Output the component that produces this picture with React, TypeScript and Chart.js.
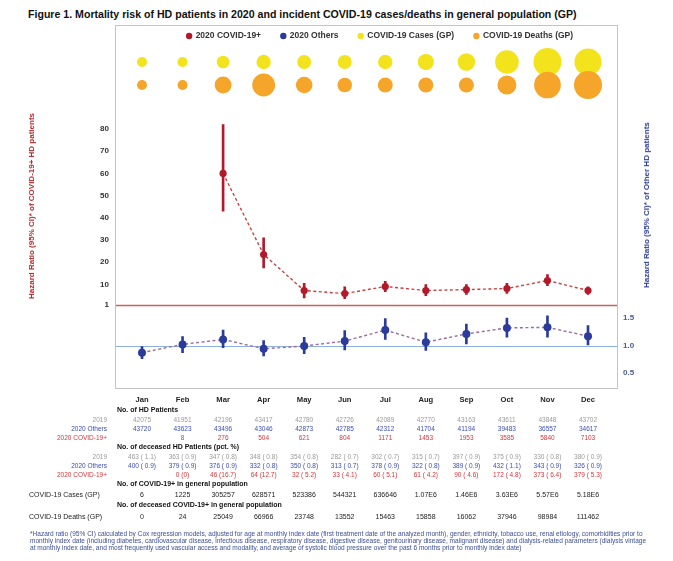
import React, { useEffect, useRef } from "react";
import { Chart, registerables } from "chart.js";

Chart.register(...registerables);

// ---------------- data ----------------
const months = ["Jan", "Feb", "Mar", "Apr", "May", "Jun", "Jul", "Aug", "Sep", "Oct", "Nov", "Dec"];

// Hazard ratio (95% CI) of COVID-19+ HD patients (Jan/Feb not estimable)
const covidHR = [null, null, 60, 23.5, 7.3, 5.9, 9.1, 7.3, 7.7, 8.2, 11.8, 7.3];
const covidLo = [null, null, 43, 17.5, 4, 3.6, 6.8, 5, 5.5, 6, 9.5, 5.5];
const covidHi = [null, null, 82, 31, 10.5, 9, 11.4, 10, 10, 10.5, 14.5, 9];

// Hazard ratio (95% CI) of other HD patients
const othersHR = [0.87, 1.02, 1.11, 0.94, 0.99, 1.08, 1.28, 1.06, 1.21, 1.32, 1.33, 1.17];
const othersLo = [0.76, 0.87, 0.96, 0.81, 0.85, 0.92, 1.11, 0.91, 1.03, 1.15, 1.15, 1.01];
const othersHi = [0.98, 1.16, 1.28, 1.09, 1.15, 1.27, 1.49, 1.23, 1.39, 1.5, 1.54, 1.36];

// General population
const gpCases = [6, 1225, 305257, 628571, 523386, 544321, 636646, 1.07e6, 1.46e6, 3.63e6, 5.57e6, 5.18e6];
const gpDeaths = [0, 24, 25049, 66966, 23748, 13552, 15463, 15858, 16062, 37946, 98984, 111462];

// HD patients
const hdPts2019 = [42075, 41951, 42196, 43417, 42780, 42726, 42089, 42770, 43163, 43611, 43848, 43702];
const hdPtsOthers = [43720, 43623, 43496, 43046, 42873, 42785, 42312, 41704, 41194, 39483, 36557, 34617];
const hdPtsCovid = [null, 8, 276, 504, 621, 804, 1171, 1453, 1953, 3585, 5840, 7103];

const dead2019 = [463, 363, 347, 348, 354, 282, 302, 315, 397, 375, 330, 380];
const dead2019Pct = [1.1, 0.9, 0.8, 0.8, 0.8, 0.7, 0.7, 0.7, 0.9, 0.9, 0.8, 0.9];
const deadOthers = [400, 379, 376, 332, 350, 313, 378, 322, 389, 432, 343, 326];
const deadOthersPct = [0.9, 0.9, 0.9, 0.8, 0.8, 0.7, 0.9, 0.8, 0.9, 1.1, 0.9, 0.9];
const deadCovid = [null, 0, 46, 64, 32, 33, 60, 61, 90, 172, 373, 379];
const deadCovidPct = [null, 0, 16.7, 12.7, 5.2, 4.1, 5.1, 4.2, 4.6, 4.8, 6.4, 5.3];

const leftTicks = [1, 10, 20, 30, 40, 50, 60, 70, 80];
const rightTicks = [0.5, 1.0, 1.5];

const TITLE = "Figure 1. Mortality risk of HD patients in 2020 and incident COVID-19 cases/deaths in general population (GP)";
const FOOT = [
  "*Hazard ratio (95% CI) calculated by Cox regression models, adjusted for age at monthly index date (first treatment date of the analyzed month), gender, ethnicity, tobacco use, renal etiology, comorbidities prior to",
  "monthly index date (including diabetes, cardiovascular disease, infectious disease, respiratory disease, digestive disease, genitourinary disease, malignant disease) and dialysis-related parameters (dialysis vintage",
  "at monthly index date, and most frequently used vascular access and modality, and average of systolic blood pressure over the past 6 months prior to monthly index date)",
];

// ---------------- layout ----------------
const W = 673;
const H = 561;
const CANVAS_H = 412;
const PAD_LEFT = 87;
const AREA_LEFT = 115;
const AREA_RIGHT = 617;
const AREA_BOTTOM = 388;
const FRAME_TOP = 25;
const LEG_FONT = 8.5;
const LEG_PAD = 20;
const LEG_Y = 36;
const PAD_TOP = LEG_Y - LEG_PAD - LEG_FONT / 2;
const AREA_TOP = PAD_TOP + LEG_FONT + LEG_PAD + 10;
const X_MIN = -0.666;
const X_MAX = 11.715;

function rangeFor(v1: number, y1: number, v2: number, y2: number) {
  const k = (y1 - y2) / (v2 - v1);
  return { min: v1 - (AREA_BOTTOM - y1) / k, max: v1 + (y1 - AREA_TOP) / k };
}
const UP = rangeFor(1, 304.5, 80, 129);
const LOW = rangeFor(0.5, 373, 1.5, 318);
const BUB = rangeFor(1, 85, 2, 62);

const colX = (i: number) => AREA_LEFT + ((i - X_MIN) / (X_MAX - X_MIN)) * (AREA_RIGHT - AREA_LEFT);

const RED = "#b3192b";
const RED_LINE = "#c9403f";
const BLUE = "#2b3b9b";
const BLUE_LINE = "#9a6c9e";
const YELLOW = "#f3e31d";
const ORANGE = "#f5a52a";
const GRAY_T = "#9a9a9a";
const BLUE_T = "#3a4db4";
const RED_T = "#d5363b";
const FONT = '"Liberation Sans", Arial, Helvetica, sans-serif';

const bubbleR = (v: number, max: number) => 5 + 9 * Math.pow(v / max, 0.65);

const fmtPct = (n: number | null, p: number | null) =>
  n == null || p == null ? "" : `${n} (${p === 0 ? "0" : p.toFixed(1).padStart(4, " ")})`;
const fmtBig = (v: number) => (v >= 1e6 ? (v / 1e6).toFixed(2) + "E6" : String(v));

// ---------------- html helpers ----------------
type RowProps = {
  y: number;
  label?: string;
  labelColor?: string;
  labelLeft?: number;
  values: (string | number | null)[];
  color: string;
  size: number;
};

function Row({ y, label, labelColor, labelLeft, values, color, size }: RowProps) {
  const base: React.CSSProperties = {
    position: "absolute",
    top: y - 5,
    height: 10,
    lineHeight: "10px",
    fontSize: size,
    whiteSpace: "pre",
  };
  return (
    <>
      {label ? (
        <div
          style={{
            ...base,
            ...(labelLeft != null ? { left: labelLeft } : { right: W - 107 }),
            color: labelColor || color,
          }}
        >
          {label}
        </div>
      ) : null}
      {values.map((v, i) =>
        v == null || v === "" ? null : (
          <div key={i} style={{ ...base, left: colX(i), transform: "translateX(-50%)", color }}>
            {v}
          </div>
        )
      )}
    </>
  );
}

function Header({ y, text }: { y: number; text: string }) {
  return (
    <div
      style={{
        position: "absolute",
        left: 117,
        top: y - 5,
        height: 10,
        lineHeight: "10px",
        fontSize: 7,
        fontWeight: "bold",
        color: "#111",
        whiteSpace: "pre",
      }}
    >
      {text}
    </div>
  );
}

export default function App() {
  const ref = useRef<HTMLCanvasElement>(null);

  useEffect(() => {
    const canvas = ref.current;
    if (!canvas) return;

    const maxCases = Math.max(...gpCases);
    const maxDeaths = Math.max(...gpDeaths);

    const covidPts = covidHR
      .map((v, i) => (v == null ? null : { x: i, y: v }))
      .filter((p) => p != null);
    const covidCI = covidHR
      .map((v, i) => (v == null ? null : { x: i, y: [covidLo[i], covidHi[i]] }))
      .filter((p) => p != null);
    const othersPts = othersHR.map((v, i) => ({ x: i, y: v }));
    const othersCI = othersHR.map((_, i) => ({ x: i, y: [othersLo[i], othersHi[i]] }));
    const casesPts = gpCases.map((v, i) => ({ x: i, y: 2, r: bubbleR(v, maxCases) }));
    const deathsPts = gpDeaths.map((v, i) => ({ x: i, y: 1, r: bubbleR(v, maxDeaths) }));

    const framePlugin = {
      id: "frame",
      beforeDatasetsDraw(chart: any) {
        const { ctx, chartArea: a, scales } = chart;
        ctx.save();
        const yr = Math.round(scales.yUp.getPixelForValue(1)) + 0.5;
        ctx.strokeStyle = "#d0605a";
        ctx.lineWidth = 1.4;
        ctx.beginPath();
        ctx.moveTo(a.left, yr);
        ctx.lineTo(a.right, yr);
        ctx.stroke();
        const yb = Math.round(scales.yLow.getPixelForValue(1)) + 0.5;
        ctx.strokeStyle = "#8fb1df";
        ctx.lineWidth = 1;
        ctx.beginPath();
        ctx.moveTo(a.left, yb);
        ctx.lineTo(a.right, yb);
        ctx.stroke();
        ctx.strokeStyle = "#c4c4c4";
        ctx.lineWidth = 1;
        ctx.strokeRect(Math.round(a.left) + 0.5, FRAME_TOP + 0.5, Math.round(a.right - a.left), Math.round(a.bottom) - FRAME_TOP);
        ctx.restore();
      },
    };

    Chart.defaults.font.family = FONT;

    const chart = new Chart(canvas, {
      type: "line",
      data: {
        datasets: [
          {
            type: "line",
            label: "2020 COVID-19+",
            data: covidPts as any,
            xAxisID: "x",
            yAxisID: "yUp",
            borderColor: RED_LINE,
            borderDash: [3, 2.5],
            borderWidth: 1.4,
            pointRadius: 3.6,
            pointBackgroundColor: RED,
            pointBorderWidth: 0,
            backgroundColor: RED,
            order: 1,
          },
          {
            type: "line",
            label: "2020 Others",
            data: othersPts as any,
            xAxisID: "x",
            yAxisID: "yLow",
            borderColor: BLUE_LINE,
            borderDash: [3, 2.5],
            borderWidth: 1.4,
            pointRadius: 4,
            pointBackgroundColor: BLUE,
            pointBorderWidth: 0,
            backgroundColor: BLUE,
            order: 1,
          },
          {
            type: "bubble",
            label: "COVID-19 Cases (GP)",
            data: casesPts as any,
            xAxisID: "x",
            yAxisID: "yBub",
            backgroundColor: YELLOW,
            borderWidth: 0,
            clip: false as any,
            order: 6,
          },
          {
            type: "bubble",
            label: "COVID-19 Deaths (GP)",
            data: deathsPts as any,
            xAxisID: "x",
            yAxisID: "yBub",
            backgroundColor: ORANGE,
            borderWidth: 0,
            clip: false as any,
            order: 5,
          },
          {
            type: "bar",
            label: "COVID-19+ CI",
            data: covidCI as any,
            xAxisID: "x",
            yAxisID: "yUp",
            backgroundColor: RED,
            barThickness: 2,
            grouped: false,
            order: 3,
          },
          {
            type: "bar",
            label: "Others CI",
            data: othersCI as any,
            xAxisID: "x",
            yAxisID: "yLow",
            backgroundColor: BLUE,
            barThickness: 2,
            grouped: false,
            order: 3,
          },
        ],
      },
      options: {
        responsive: false,
        animation: false,
        events: [],
        layout: { padding: { left: PAD_LEFT, right: 0, top: PAD_TOP, bottom: 0 } },
        plugins: {
          tooltip: { enabled: false },
          legend: {
            display: true,
            position: "top",
            align: "center",
            labels: {
              usePointStyle: true,
              boxWidth: 4.5,
              boxHeight: 4.5,
              padding: LEG_PAD,
              color: "#333",
              font: { size: LEG_FONT, weight: "bold" },
              generateLabels: (ch: any) =>
                [0, 1, 2, 3].map((i) => {
                  const ds = ch.data.datasets[i];
                  const c = ds.type === "line" ? ds.pointBackgroundColor : ds.backgroundColor;
                  return {
                    text: ds.label,
                    fillStyle: c,
                    strokeStyle: c,
                    lineWidth: 0,
                    pointStyle: "circle",
                    hidden: false,
                    datasetIndex: i,
                    fontColor: "#333",
                  };
                }),
            },
          },
        },
        scales: {
          x: {
            type: "linear",
            position: "bottom",
            min: X_MIN,
            max: X_MAX,
            offset: false,
            grid: { display: false, drawTicks: false },
            border: { display: false },
            afterBuildTicks: (axis: any) => {
              axis.ticks = months.map((_, i) => ({ value: i }));
            },
            afterFit: (axis: any) => {
              axis.height = CANVAS_H - AREA_BOTTOM;
            },
            ticks: {
              padding: 7,
              autoSkip: false,
              maxRotation: 0,
              color: "#222",
              font: { size: 7.6, weight: "bold" },
              callback: (v: any) => months[Math.round(Number(v))] ?? "",
            },
          },
          yUp: {
            type: "linear",
            position: "left",
            min: UP.min,
            max: UP.max,
            grid: { display: false, drawTicks: false },
            border: { display: false },
            afterBuildTicks: (axis: any) => {
              axis.ticks = leftTicks.map((v) => ({ value: v }));
            },
            afterFit: (axis: any) => {
              axis.width = AREA_LEFT - PAD_LEFT;
            },
            ticks: {
              padding: 6,
              color: "#333",
              font: { size: 8, weight: "bold" },
              callback: (v: any) => String(v),
            },
          },
          yLow: {
            type: "linear",
            position: "right",
            min: LOW.min,
            max: LOW.max,
            grid: { display: false, drawTicks: false },
            border: { display: false },
            afterBuildTicks: (axis: any) => {
              axis.ticks = rightTicks.map((v) => ({ value: v }));
            },
            afterFit: (axis: any) => {
              axis.width = W - AREA_RIGHT;
            },
            ticks: {
              padding: 6,
              color: "#4a5a92",
              font: { size: 8, weight: "bold" },
              callback: (v: any) => Number(v).toFixed(1),
            },
          },
          yBub: {
            type: "linear",
            display: false,
            min: BUB.min,
            max: BUB.max,
          },
        },
      } as any,
      plugins: [framePlugin],
    } as any);

    return () => chart.destroy();
  }, []);

  const rotBase: React.CSSProperties = {
    position: "absolute",
    transform: "translate(-50%,-50%) rotate(-90deg)",
    whiteSpace: "nowrap",
    fontSize: 8,
    fontWeight: "bold",
    lineHeight: "10px",
  };

  return (
    <div
      style={{
        position: "absolute",
        left: 0,
        top: 0,
        width: W,
        height: H,
        overflow: "hidden",
        background: "#fff",
        fontFamily: FONT,
      }}
    >
      <div
        style={{
          position: "absolute",
          left: 28,
          top: 8,
          lineHeight: "12px",
          fontSize: 10.6,
          fontWeight: "bold",
          color: "#111",
          whiteSpace: "nowrap",
        }}
      >
        {TITLE}
      </div>

      <canvas
        ref={ref}
        width={W}
        height={CANVAS_H}
        style={{ position: "absolute", left: 0, top: 0, width: W, height: CANVAS_H, display: "block" }}
      />

      <div style={{ ...rotBase, left: 32, top: 206, color: "#b52a2f" }}>
        Hazard Ratio (95% CI)* of COVID-19+ HD patients
      </div>
      <div style={{ ...rotBase, left: 647, top: 205, color: "#2d3f9b" }}>
        Hazard Ratio (95% CI)* of Other HD patients
      </div>

      <Header y={410} text="No. of HD Patients" />
      <Row y={420} label="2019" values={hdPts2019} color={GRAY_T} size={6.5} />
      <Row y={429} label="2020 Others" values={hdPtsOthers} color={BLUE_T} size={6.5} />
      <Row y={438} label="2020 COVID-19+" values={hdPtsCovid} color={RED_T} size={6.5} />

      <Header y={447} text="No. of deceased HD Patients (pct. %)" />
      <Row y={457} label="2019" values={dead2019.map((n, i) => fmtPct(n, dead2019Pct[i]))} color={GRAY_T} size={6.5} />
      <Row y={466} label="2020 Others" values={deadOthers.map((n, i) => fmtPct(n, deadOthersPct[i]))} color={BLUE_T} size={6.5} />
      <Row y={475} label="2020 COVID-19+" values={deadCovid.map((n, i) => fmtPct(n, deadCovidPct[i]))} color={RED_T} size={6.5} />

      <Header y={484} text="No. of COVID-19+ in general population" />
      <Row y={495} label="COVID-19 Cases (GP)" labelLeft={29} values={gpCases.map(fmtBig)} color="#222" size={7} />
      <Header y={505} text="No. of deceased COVID-19+ in general population" />
      <Row y={517} label="COVID-19 Deaths (GP)" labelLeft={29} values={gpDeaths.map(fmtBig)} color="#222" size={7} />

      {FOOT.map((t, i) => (
        <div
          key={i}
          style={{
            position: "absolute",
            left: 30,
            top: 530 + i * 7,
            lineHeight: "7px",
            fontSize: 6.55,
            color: "#3c4e96",
            whiteSpace: "nowrap",
          }}
        >
          {t}
        </div>
      ))}
    </div>
  );
}
